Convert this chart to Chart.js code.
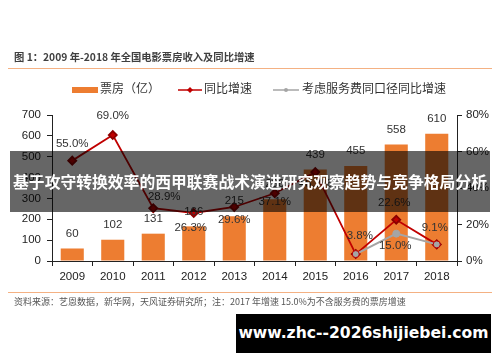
<!DOCTYPE html>
<html><head><meta charset="utf-8">
<script src="https://cdn.jsdelivr.net/npm/chart.js@4/dist/chart.umd.min.js"></script>
<style>
html,body{margin:0;padding:0;background:#fff;}
#wrap{position:relative;width:500px;height:362px;overflow:hidden;font-family:"Noto Sans CJK SC","Liberation Sans",sans-serif;}
canvas{position:absolute;left:0;top:0;}
.title{position:absolute;left:14px;top:49px;font-size:10.3px;font-weight:bold;color:#404040;white-space:nowrap;}
.hline{position:absolute;left:8px;width:484px;height:1px;background:#F4B183;}
.legend{position:absolute;top:80px;font-size:12px;color:#333;white-space:nowrap;line-height:16px;}
.foot{position:absolute;left:14px;top:295px;font-size:9px;color:#555;white-space:nowrap;}
.banner{position:absolute;left:10px;top:151px;width:480px;height:61px;background:rgba(0,0,0,0.6);color:#fff;font-weight:bold;font-size:15.8px;line-height:61px;text-align:center;white-space:nowrap;}
.wm{position:absolute;left:236px;top:314px;width:255px;height:39px;background:#000;color:#fff;font-weight:bold;font-size:15.6px;line-height:39px;text-align:center;font-family:"DejaVu Sans",sans-serif;white-space:nowrap;}
</style></head>
<body><div id="wrap">
<canvas id="c" width="500" height="362"></canvas>
<div class="title">图 1：2009 年-2018 年全国电影票房收入及同比增速</div>
<div class="hline" style="top:68px"></div>
<div class="legend" style="left:72px"><span style="display:inline-block;width:26px;height:6px;background:#ED7D31;vertical-align:middle;margin-right:2px"></span>票房（亿）</div>
<div class="legend" style="left:178px"><svg width="24" height="10" style="vertical-align:middle;margin-right:2px"><line x1="0" y1="5" x2="24" y2="5" stroke="#C00000" stroke-width="1.5"/><polygon points="12,2 15,5 12,8 9,5" fill="#C00000"/></svg>同比增速</div>
<div class="legend" style="left:273px"><svg width="26" height="10" style="vertical-align:middle;margin-right:3px"><line x1="0" y1="5" x2="26" y2="5" stroke="#A5A5A5" stroke-width="1.5"/><circle cx="13" cy="5" r="2" fill="#A5A5A5"/></svg>考虑服务费同口径同比增速</div>
<div class="hline" style="top:292px"></div>
<div class="foot">资料来源：艺恩数据，新华网，天风证券研究所；注：2017 年增速 15.0%为不含服务费的票房增速</div>
<div class="banner">基于攻守转换效率的西甲联赛战术演进研究观察趋势与竞争格局分析</div>
<div class="wm">www.zhc--2026shijiebei.com</div>
</div>
<script>
const years = ["2009","2010","2011","2012","2013","2014","2015","2016","2017","2018"];
const boxOffice = [60,102,131,166,215,296,439,455,558,610];
const growth = [55.0,69.0,28.9,26.3,29.6,37.1,48.7,3.8,22.6,9.1];
const growthService = [null,null,null,null,null,null,null,3.8,15.0,9.1];
const leftTicks = [0,100,200,300,400,500,600,700];
const rightTicks = [0,20,40,60,80];

const growthOffsets = [[0,-17],[0,-19],[11,-11],[-3,15],[0,13],[0,9],[0,12],[4,-18],[-2,-17],[-2,-17]];
const serviceOffsets = [null,null,null,null,null,null,null,null,[-1,12],null];

const labelPlugin = {
  id:'labels',
  afterDatasetsDraw(chart){
    const ctx = chart.ctx;
    ctx.save();
    ctx.font = '11.5px "Liberation Sans", Arial, sans-serif';
    ctx.fillStyle = '#333';
    ctx.textAlign = 'center';
    ctx.textBaseline = 'middle';
    const barMeta = chart.getDatasetMeta(2);
    barMeta.data.forEach((el,i)=>{
      ctx.fillText(String(boxOffice[i]), el.x, el.y - 15);
    });
    const gMeta = chart.getDatasetMeta(0);
    gMeta.data.forEach((el,i)=>{
      const o = growthOffsets[i];
      ctx.fillText(growth[i].toFixed(1)+'%', el.x+o[0], el.y+o[1]);
    });
    const sMeta = chart.getDatasetMeta(1);
    sMeta.data.forEach((el,i)=>{
      const o = serviceOffsets[i];
      if(o && growthService[i]!=null) ctx.fillText(growthService[i].toFixed(1)+'%', el.x+o[0], el.y+o[1]);
    });
    ctx.restore();
  }
};

const tickFont = {family:'"Liberation Sans", Arial, sans-serif', size:11.5};
new Chart(document.getElementById('c'), {
  data:{
    labels: years,
    datasets:[
      {type:'line', label:'同比增速', data:growth, yAxisID:'y1', borderColor:'#C00000', backgroundColor:'#C00000',
       borderWidth:1.8, pointStyle:'rectRot', pointRadius:4, pointBackgroundColor:'#C00000', pointBorderColor:'#8B0000', tension:0, order:1},
      {type:'line', label:'考虑服务费同口径同比增速', data:growthService, yAxisID:'y1', borderColor:'#A5A5A5', backgroundColor:'#A5A5A5',
       borderWidth:2, pointRadius:3.5, pointBackgroundColor:'#A5A5A5', pointBorderColor:['#A5A5A5','#A5A5A5','#A5A5A5','#A5A5A5','#A5A5A5','#A5A5A5','#A5A5A5','#C00000','#A5A5A5','#C00000'], pointBorderWidth:1, tension:0, order:0},
      {type:'bar', label:'票房（亿）', data:boxOffice, yAxisID:'y', backgroundColor:'#ED7D31', categoryPercentage:1, barPercentage:0.57, order:2}
    ]
  },
  options:{
    responsive:false, animation:false,
    layout:{padding:{top:115,left:0,right:0,bottom:0}},
    plugins:{legend:{display:false}, tooltip:{enabled:false}},
    scales:{
      x:{offset:true, afterFit(s){s.height=101;},
         grid:{display:true, drawOnChartArea:false, offset:true, tickLength:5, color:'#222'},
         border:{display:true,color:'#222',width:1},
         ticks:{font:tickFont, color:'#222', padding:4}},
      y:{position:'left', min:0, max:700, afterFit(s){s.width=52;},
         afterBuildTicks(s){s.ticks = leftTicks.map(v=>({value:v}));},
         grid:{display:true, drawOnChartArea:false, tickLength:5, color:'#222'},
         border:{display:true,color:'#222',width:1},
         ticks:{font:tickFont, color:'#222', padding:6}},
      y1:{position:'right', min:0, max:80, afterFit(s){s.width=43;},
         afterBuildTicks(s){s.ticks = rightTicks.map(v=>({value:v}));},
         grid:{display:true, drawOnChartArea:false, tickLength:5, color:'#222'},
         border:{display:true,color:'#222',width:1},
         ticks:{font:tickFont, color:'#222', padding:4, callback:v=>v+'%'}}
    }
  },
  plugins:[labelPlugin]
});
</script>
</body></html>
